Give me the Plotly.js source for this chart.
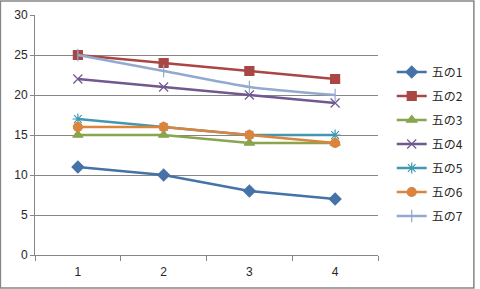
<!DOCTYPE html>
<html>
<head>
<meta charset="utf-8">
<script src="https://cdn.plot.ly/plotly-3.0.1.min.js"></script>
<style>
  html, body { margin: 0; padding: 0; background: #fff; }
  #chart { width: 480px; height: 289px; }
</style>
</head>
<body>
<div id="chart"></div>
<script>
// Categories along the x axis
const categories = ['1', '2', '3', '4'];

// Series names and values
const seriesNames = ['五の1', '五の2', '五の3', '五の4', '五の5', '五の6', '五の7'];
const s1 = [11, 10, 8, 7];
const s2 = [25, 24, 23, 22];
const s3 = [15, 15, 14, 14];
const s4 = [22, 21, 20, 19];
const s5 = [17, 16, 15, 15];
const s6 = [16, 16, 15, 14];
const s7 = [25, 23, 21, 20];

const yTicks = [0, 5, 10, 15, 20, 25, 30];

// Office-style palette and markers
const styles = [
  { color: '#4572A7', symbol: 'diamond', size: 9, shape: 'linear' },
  { color: '#AA4643', symbol: 'square', size: 9, shape: 'linear' },
  { color: '#89A54E', symbol: 'triangle-up', size: 9, shape: 'linear' },
  { color: '#71588F', symbol: 'x-thin-open', size: 9, shape: 'linear' },
  { color: '#4198AF', symbol: 'asterisk-open', size: 9, shape: 'linear' },
  { color: '#DB843D', symbol: 'circle', size: 9, shape: 'linear' },
  { color: '#93A9CF', symbol: 'line-ns-open', size: 9, shape: 'spline' }
];

const values = [s1, s2, s3, s4, s5, s6, s7];

const traces = values.map((v, i) => ({
  type: 'scatter',
  mode: 'lines+markers',
  name: seriesNames[i],
  legendgroup: seriesNames[i],
  x: categories,
  y: v,
  line: { color: styles[i].color, width: 2.5, shape: styles[i].shape, smoothing: 0.6 },
  marker: {
    color: styles[i].color,
    symbol: styles[i].symbol,
    size: styles[i].size,
    line: { color: styles[i].color, width: 1.2 }
  }
}));

const layout = {
  width: 480,
  height: 289,
  margin: { l: 35, r: 98, t: 15, b: 34 },
  paper_bgcolor: '#ffffff',
  plot_bgcolor: '#ffffff',
  font: { family: 'Liberation Sans, Arial, sans-serif', size: 12, color: '#262626' },
  showlegend: true,
  legend: {
    x: 1.04, xanchor: 'left',
    y: 0.4625, yanchor: 'middle',
    font: { family: 'Noto Sans CJK JP, sans-serif', size: 12, color: '#262626' },
    tracegroupgap: 5,
    itemwidth: 30,
    bgcolor: 'rgba(0,0,0,0)'
  },
  xaxis: {
    type: 'category',
    range: [-0.5, 3.5],
    tickson: 'boundaries',
    ticks: 'outside',
    ticklen: 5,
    tickcolor: '#868686',
    ticklabelstandoff: 6,
    showgrid: false,
    showline: true,
    linecolor: '#868686',
    linewidth: 1,
    zeroline: false,
    fixedrange: true,
    tickfont: { size: 12 }
  },
  yaxis: {
    range: [0, 30],
    tickvals: yTicks,
    ticks: 'outside',
    ticklen: 4,
    tickcolor: '#868686',
    showgrid: true,
    gridcolor: '#868686',
    gridwidth: 1,
    showline: true,
    linecolor: '#868686',
    linewidth: 1,
    zeroline: false,
    fixedrange: true,
    tickfont: { size: 12 }
  },
  shapes: [{
    type: 'rect', xref: 'paper', yref: 'paper',
    x0: -35 / 347, x1: 1 + 97 / 347, y0: -33 / 240, y1: 1 + 14 / 240,
    line: { color: '#868686', width: 1.5 }
  }]
};

Plotly.newPlot('chart', traces, layout, { displayModeBar: false, staticPlot: true });
</script>
</body>
</html>
